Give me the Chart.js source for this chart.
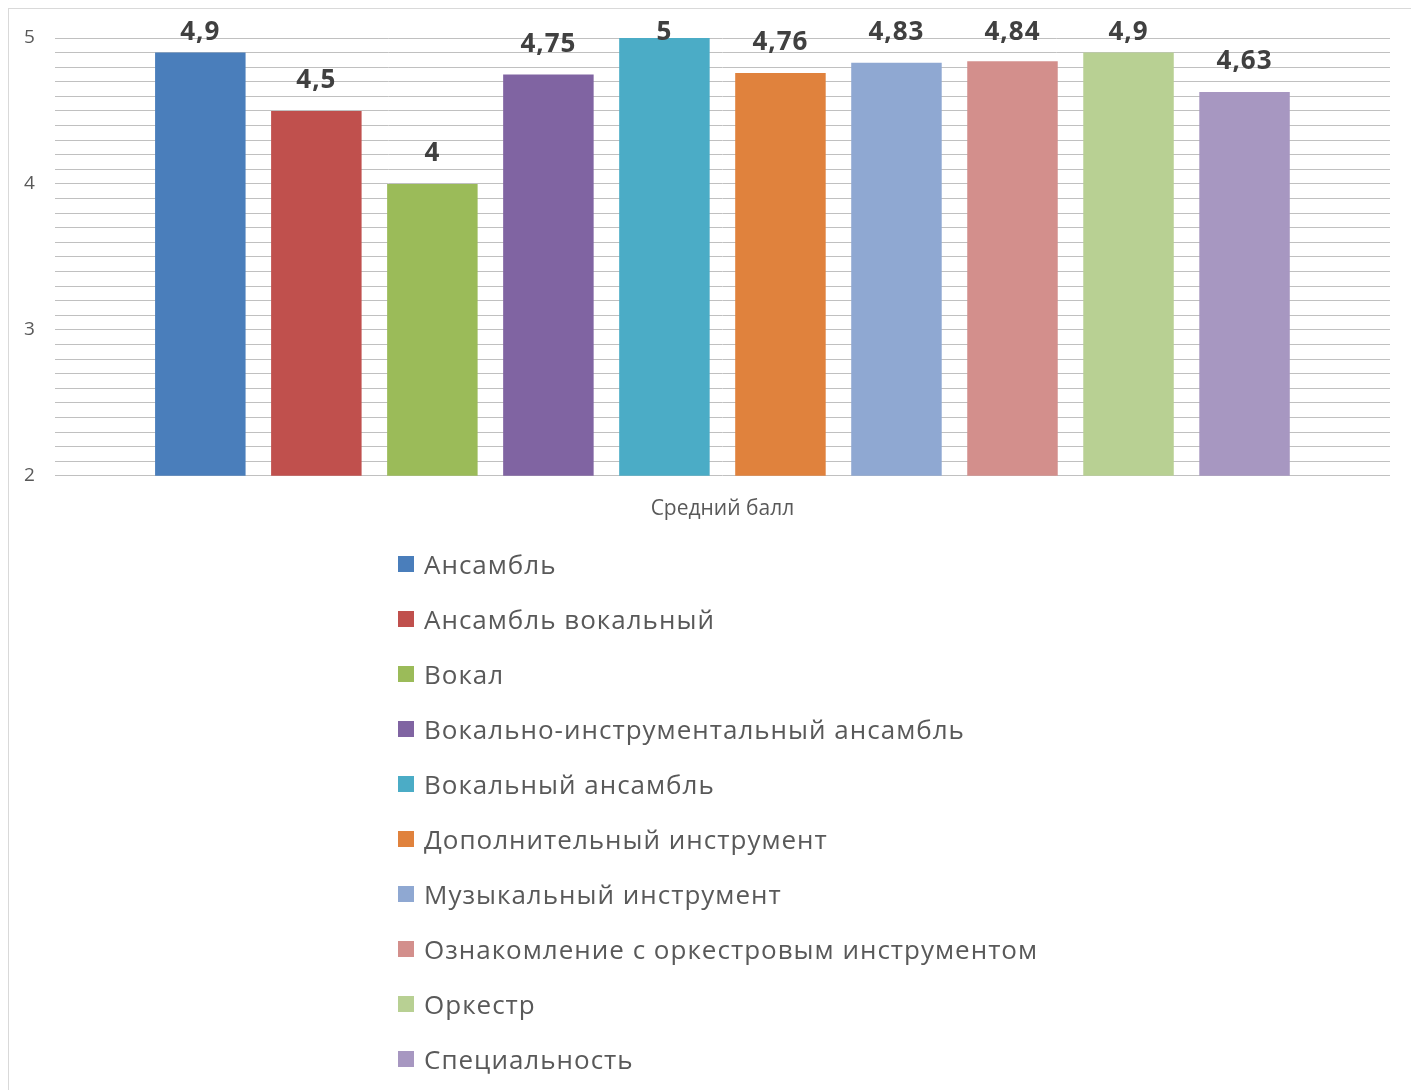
<!DOCTYPE html>
<html>
<head>
<meta charset="utf-8">
<script src="https://cdn.jsdelivr.net/npm/chart.js@4"></script>
<style>
body { margin: 0; background: #fff; font-family: 'Open Sans', sans-serif; }
#frame { position: absolute; left: 8px; top: 8px; width: 1420px; height: 1100px;
  border-left: 1px solid #d9d9d9; border-top: 1px solid #d9d9d9; }
#myChart { position: absolute; left: 0; top: 0; }
#legend { position: absolute; left: 398px; top: 536px; }
.item { height: 55px; display: flex; align-items: center; font-size: 26px; letter-spacing: 1px; color: #595959; }
.box { width: 16px; height: 16px; margin-right: 10px; }
</style>
</head>
<body>
<div id="frame"></div>
<canvas id="myChart" width="1411" height="545"></canvas>
<div id="legend"></div>
<script>
// data
const labelsX = ['Средний балл'];
const subjects = [
    'Ансамбль',
    'Ансамбль вокальный',
    'Вокал',
    'Вокально-инструментальный ансамбль',
    'Вокальный ансамбль',
    'Дополнительный инструмент',
    'Музыкальный инструмент',
    'Ознакомление с оркестровым инструментом',
    'Оркестр',
    'Специальность'
];
const scores = [4.9, 4.5, 4, 4.75, 5, 4.76, 4.83, 4.84, 4.9, 4.63];
const colors = ['#4a7ebb', '#c0504d', '#9bbb59', '#8064a2', '#4bacc6',
                '#e0823d', '#8fa8d2', '#d38f8c', '#b8d093', '#a797c1'];
const yTicks = [2, 3, 4, 5];

Chart.defaults.font.family = "'Open Sans', sans-serif";

const ctx = document.getElementById('myChart');

// value labels above bars, comma as decimal separator
const valueLabels = {
    id: 'valueLabels',
    afterDatasetsDraw(chart) {
        const c = chart.ctx;
        c.save();
        c.font = "bold 26px 'Open Sans', sans-serif";
        c.letterSpacing = '1px';
        c.fillStyle = '#404040';
        c.textAlign = 'center';
        c.textBaseline = 'middle';
        chart.data.datasets.forEach((ds, i) => {
            const bar = chart.getDatasetMeta(i).data[0];
            const y = Math.max(bar.y - 30, 33);
            c.fillText(String(ds.data[0]).replace('.', ','), bar.x, y);
        });
        c.restore();
    }
};

const chart = new Chart(ctx, {
    type: 'bar',
    data: {
        labels: labelsX,
        datasets: subjects.map((name, i) => ({
            label: name,
            data: [scores[i]],
            backgroundColor: colors[i],
            categoryPercentage: 0.869,
            barPercentage: 0.78
        }))
    },
    options: {
        responsive: false,
        animation: false,
        layout: { padding: { left: 4, right: 21, top: 38, bottom: 10 } },
        plugins: {
            legend: { display: false },
            tooltip: { enabled: false }
        },
        scales: {
            x: {
                grid: { display: false },
                border: { display: false },
                ticks: { color: '#595959', font: { size: 21 }, padding: 13 }
            },
            y: {
                min: 2,
                max: 5,
                border: { display: false },
                grid: { color: '#c0c0c0', lineWidth: 1, drawTicks: false },
                ticks: {
                    stepSize: 0.1,
                    autoSkip: false,
                    color: '#595959',
                    font: { size: 19 },
                    padding: 20,
                    callback: (v) => {
                        const r = Math.round(v);
                        return (Math.abs(v - r) < 1e-6 && yTicks.includes(r)) ? r : '';
                    }
                }
            }
        }
    },
    plugins: [valueLabels]
});

// vertical legend below the chart
const legend = document.getElementById('legend');
chart.data.datasets.forEach((ds) => {
    const item = document.createElement('div');
    item.className = 'item';
    const box = document.createElement('span');
    box.className = 'box';
    box.style.background = ds.backgroundColor;
    const txt = document.createElement('span');
    txt.textContent = ds.label;
    item.appendChild(box);
    item.appendChild(txt);
    legend.appendChild(item);
});
</script>
</body>
</html>
